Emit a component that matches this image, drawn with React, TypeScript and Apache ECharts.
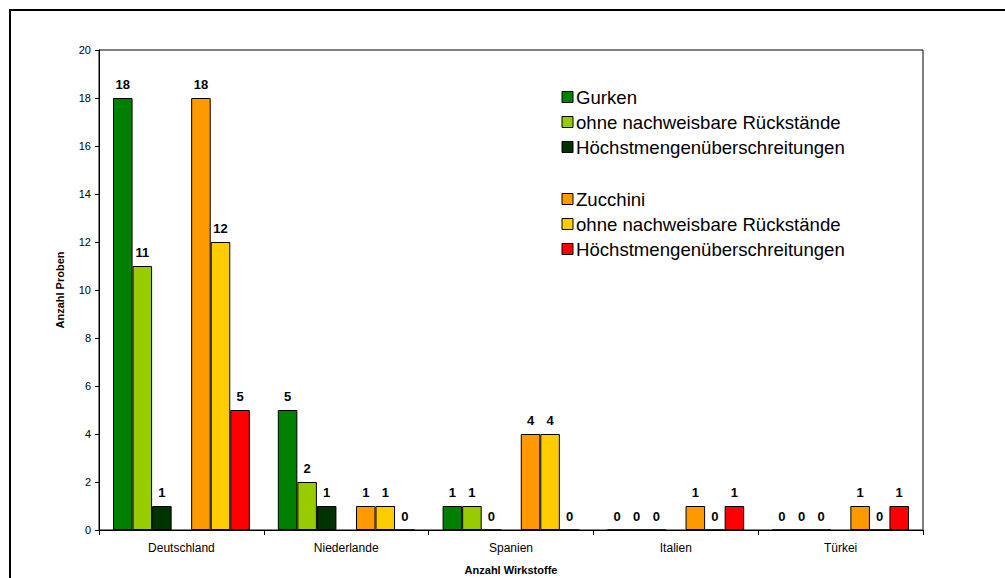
import React, { useEffect, useRef } from "react";
import * as echarts from "echarts";

const categories = ["Deutschland", "Niederlande", "Spanien", "Italien", "Türkei"];
const gurken = [18, 5, 1, 0, 0];
const gurkenOhne = [11, 2, 1, 0, 0];
const gurkenHoechst = [1, 1, 0, 0, 0];
const zucchini = [18, 1, 4, 1, 1];
const zucchiniOhne = [12, 1, 4, 0, 0];
const zucchiniHoechst = [5, 0, 0, 1, 1];
const yTicks = [0, 2, 4, 6, 8, 10, 12, 14, 16, 18, 20];

const seriesDefs = [
  { name: "Gurken", data: gurken, color: "#008000" },
  { name: "ohne nachweisbare Rückstände", data: gurkenOhne, color: "#99CC00" },
  { name: "Höchstmengenüberschreitungen", data: gurkenHoechst, color: "#003300" },
  { name: "", data: null as number[] | null, color: "transparent" },
  { name: "Zucchini", data: zucchini, color: "#FF9900" },
  { name: "ohne nachweisbare Rückstände", data: zucchiniOhne, color: "#FFCC00" },
  { name: "Höchstmengenüberschreitungen", data: zucchiniHoechst, color: "#FF0000" },
];

const FONT = "Liberation Sans, Arial, sans-serif";

export default function App() {
  const ref = useRef<HTMLDivElement>(null);
  useEffect(() => {
    if (!ref.current) return;
    const chart = echarts.init(ref.current, null, { renderer: "svg" });
    const series: any[] = seriesDefs.map((s) => ({
      type: "bar",
      name: s.name || "gap",
      data: s.data ? s.data : categories.map(() => "-"),
      barGap: "0%",
      barCategoryGap: "17%",
      itemStyle: { color: s.color, borderColor: "#000", borderWidth: s.data ? 1 : 0 },
      label: {
        show: !!s.data,
        position: "top",
        distance: 7,
        fontFamily: FONT,
        fontWeight: "bold",
        fontSize: 13,
        color: "#000",
      },
      silent: true,
    }));

    const legendRows = [
      { i: 0, y: 97 },
      { i: 1, y: 122 },
      { i: 2, y: 147 },
      { i: 4, y: 199 },
      { i: 5, y: 224 },
      { i: 6, y: 249 },
    ];
    const graphics: any[] = [
      {
        type: "rect",
        shape: { x: 10, y: 10, width: 1100, height: 700 },
        style: { fill: "none", stroke: "#000", lineWidth: 2 },
        silent: true,
      },
    ];
    legendRows.forEach((r) => {
      const s = seriesDefs[r.i];
      graphics.push({
        type: "rect",
        shape: { x: 562, y: r.y - 5.5, width: 11, height: 11 },
        style: { fill: s.color, stroke: "#000", lineWidth: 1 },
      });
      graphics.push({
        type: "text",
        x: 576,
        y: r.y,
        style: {
          text: s.name,
          fontFamily: FONT,
          fontSize: 18.6,
          fill: "#000",
          verticalAlign: "middle",
          align: "left",
        },
      });
    });

    chart.setOption({
      animation: false,
      backgroundColor: "#fff",
      grid: {
        left: 99,
        top: 50,
        right: 82,
        bottom: 48,
        outerBoundsMode: "none",
        containLabel: false,
        show: true,
        borderColor: "#000",
        borderWidth: 1,
        backgroundColor: "transparent",
      },
      xAxis: {
        type: "category",
        data: categories,
        name: "Anzahl Wirkstoffe",
        nameLocation: "middle",
        nameGap: 34,
        nameTextStyle: { fontFamily: FONT, fontWeight: "bold", fontSize: 11, color: "#000" },
        axisLine: { lineStyle: { color: "#000", width: 1 } },
        axisTick: { show: true, alignWithLabel: false, length: 5, lineStyle: { color: "#000" } },
        axisLabel: { fontFamily: FONT, fontSize: 12, color: "#000", margin: 12 },
      },
      yAxis: {
        type: "value",
        min: 0,
        max: 20,
        interval: 2,
        name: "Anzahl Proben",
        nameLocation: "middle",
        nameGap: 34,
        nameRotate: 90,
        nameTextStyle: { fontFamily: FONT, fontWeight: "bold", fontSize: 11, color: "#000" },
        axisLine: { show: true, lineStyle: { color: "#000", width: 1 } },
        axisTick: { show: true, length: 4, lineStyle: { color: "#000" } },
        axisLabel: {
          fontFamily: FONT,
          fontSize: 11,
          color: "#000",
          margin: 8,
          formatter: (v: number) => (yTicks.includes(v) ? String(v) : ""),
        },
        splitLine: { show: false },
      },
      series,
      graphic: graphics,
    });
    return () => chart.dispose();
  }, []);
  return <div ref={ref} style={{ width: 1005, height: 578, position: "absolute", left: 0, top: 0 }} />;
}
